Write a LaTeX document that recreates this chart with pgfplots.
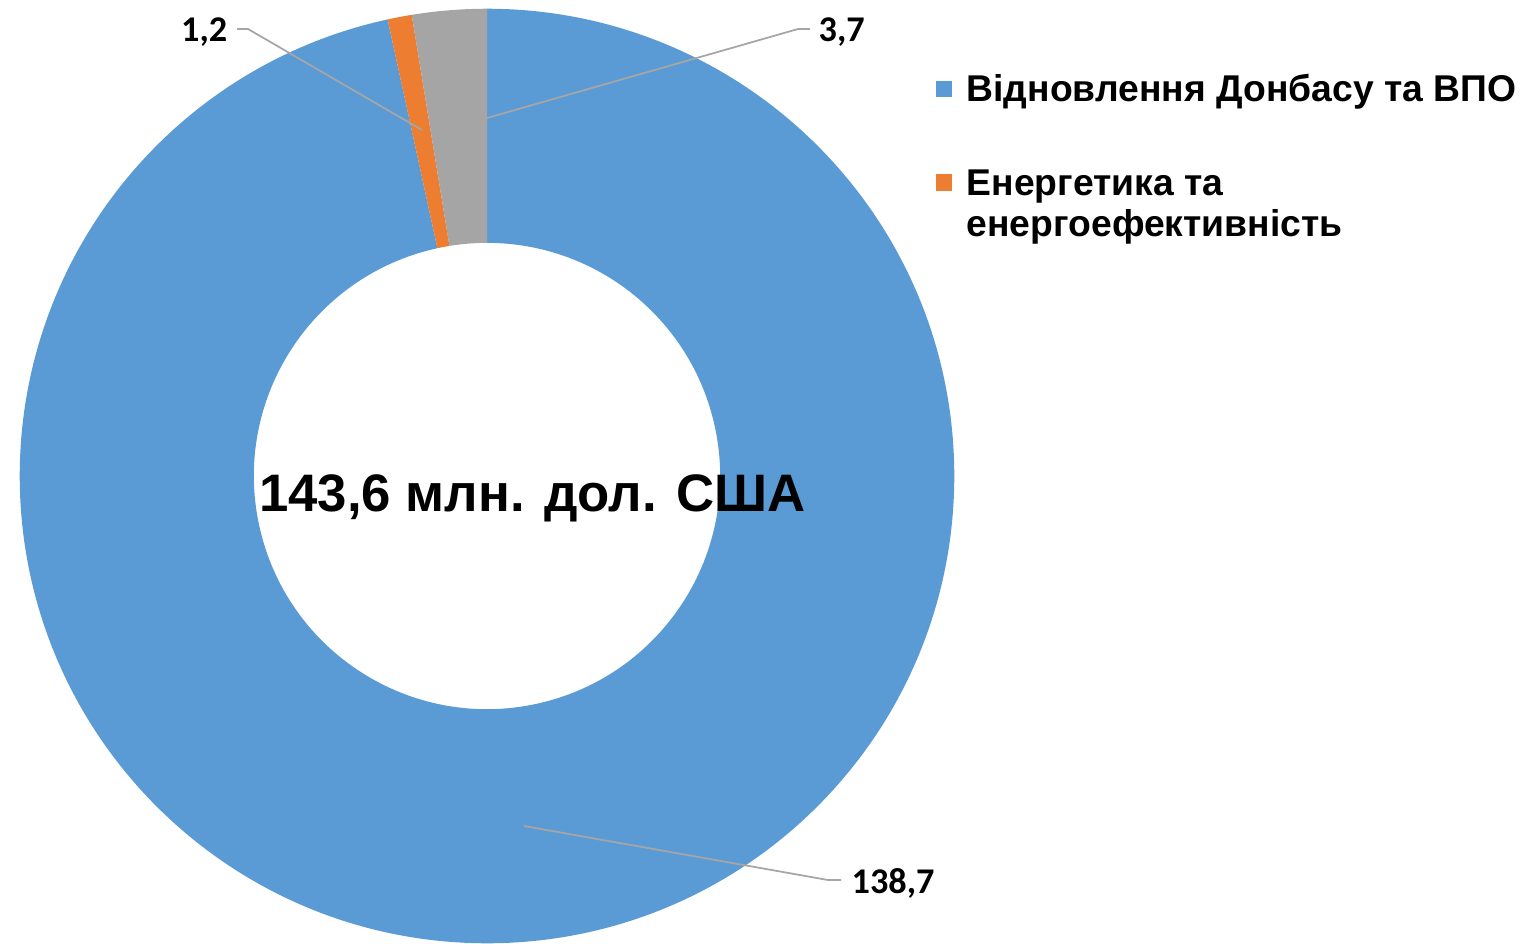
\documentclass[border=0pt]{standalone}
\usepackage{pgfplots}
\usepackage{pgfplotstable}
\pgfplotsset{compat=1.18}
\usepackage{fontspec}
\setmainfont{Liberation Sans}
\newfontfamily\calib{Carlito}
\definecolor{blueC}{HTML}{5B9BD5}
\definecolor{orangeC}{HTML}{ED7D31}
\definecolor{grayC}{HTML}{A5A5A5}
\definecolor{leadC}{HTML}{A6A6A6}
\pgfplotstableread[col sep=comma]{
part,value
donbas,138.7
energy,1.2
other,3.7
}\donutdata
\begin{document}
\begin{tikzpicture}
\pgfplotstablegetelem{0}{value}\of\donutdata \let\va\pgfplotsretval
\pgfplotstablegetelem{1}{value}\of\donutdata \let\vb\pgfplotsretval
\pgfplotstablegetelem{2}{value}\of\donutdata \let\vc\pgfplotsretval
\pgfmathsetmacro\tot{\va+\vb+\vc}
\pgfmathsetmacro\aA{90}
\pgfmathsetmacro\aB{\aA-360*(\va/\tot)}
\pgfmathsetmacro\aC{\aB-360*(\vb/\tot)}
\pgfmathsetmacro\aD{\aC-360*(\vc/\tot)}
\begin{axis}[
  x=0.01cm, y=0.01cm,
  xmin=0, xmax=1529, ymin=0, ymax=943,
  hide axis, clip=false,
]
\path (axis cs:0,0) rectangle (axis cs:1529,943);
% sectors
\fill[blueC] ([shift={(\aA:4.67cm)}]axis cs:487,467) arc[start angle=\aA, end angle=\aB, radius=4.67cm]
  -- ([shift={(\aB:2.33cm)}]axis cs:487,467) arc[start angle=\aB, end angle=\aA, radius=2.33cm] -- cycle;
\fill[orangeC] ([shift={(\aB:4.67cm)}]axis cs:487,467) arc[start angle=\aB, end angle=\aC, radius=4.67cm]
  -- ([shift={(\aC:2.33cm)}]axis cs:487,467) arc[start angle=\aC, end angle=\aB, radius=2.33cm] -- cycle;
\fill[grayC] ([shift={(\aC:4.67cm)}]axis cs:487,467) arc[start angle=\aC, end angle=\aD, radius=4.67cm]
  -- ([shift={(\aD:2.33cm)}]axis cs:487,467) arc[start angle=\aD, end angle=\aC, radius=2.33cm] -- cycle;
% leader lines
\draw[leadC, line width=0.5pt] (axis cs:487,825) -- (axis cs:798,914) -- (axis cs:810,914);
\draw[leadC, line width=0.5pt] (axis cs:422,813) -- (axis cs:248,914) -- (axis cs:237,914);
\draw[leadC, line width=0.5pt] (axis cs:524,117) -- (axis cs:828,63) -- (axis cs:841,63);
% data labels
\node[anchor=base west, inner sep=0pt, font=\calib\bfseries\fontsize{10.3}{12}\selectfont] at (axis cs:818,901) {3,7};
\node[anchor=base east, inner sep=0pt, font=\calib\bfseries\fontsize{10.3}{12}\selectfont] at (axis cs:228,901) {1,2};
\node[anchor=base west, inner sep=0pt, font=\calib\bfseries\fontsize{10.3}{12}\selectfont] at (axis cs:851,50) {138,7};
% center text
\node[anchor=base, inner sep=0pt, font=\bfseries\fontsize{15}{18}\selectfont] at (axis cs:532.5,432) {143,6 млн. дол. США};
% legend
\fill[blueC] (axis cs:936,846) rectangle (axis cs:952,862);
\node[anchor=base west, inner sep=0pt, font=\bfseries\fontsize{10.6}{12}\selectfont] at (axis cs:966,841) {Відновлення Донбасу та ВПО};
\fill[orangeC] (axis cs:936,752) rectangle (axis cs:952,769);
\node[anchor=base west, inner sep=0pt, font=\bfseries\fontsize{10.6}{12}\selectfont] at (axis cs:966,748) {Енергетика та};
\node[anchor=base west, inner sep=0pt, font=\bfseries\fontsize{10.6}{12}\selectfont] at (axis cs:966,707) {енергоефективність};
\end{axis}
\end{tikzpicture}
\end{document}
